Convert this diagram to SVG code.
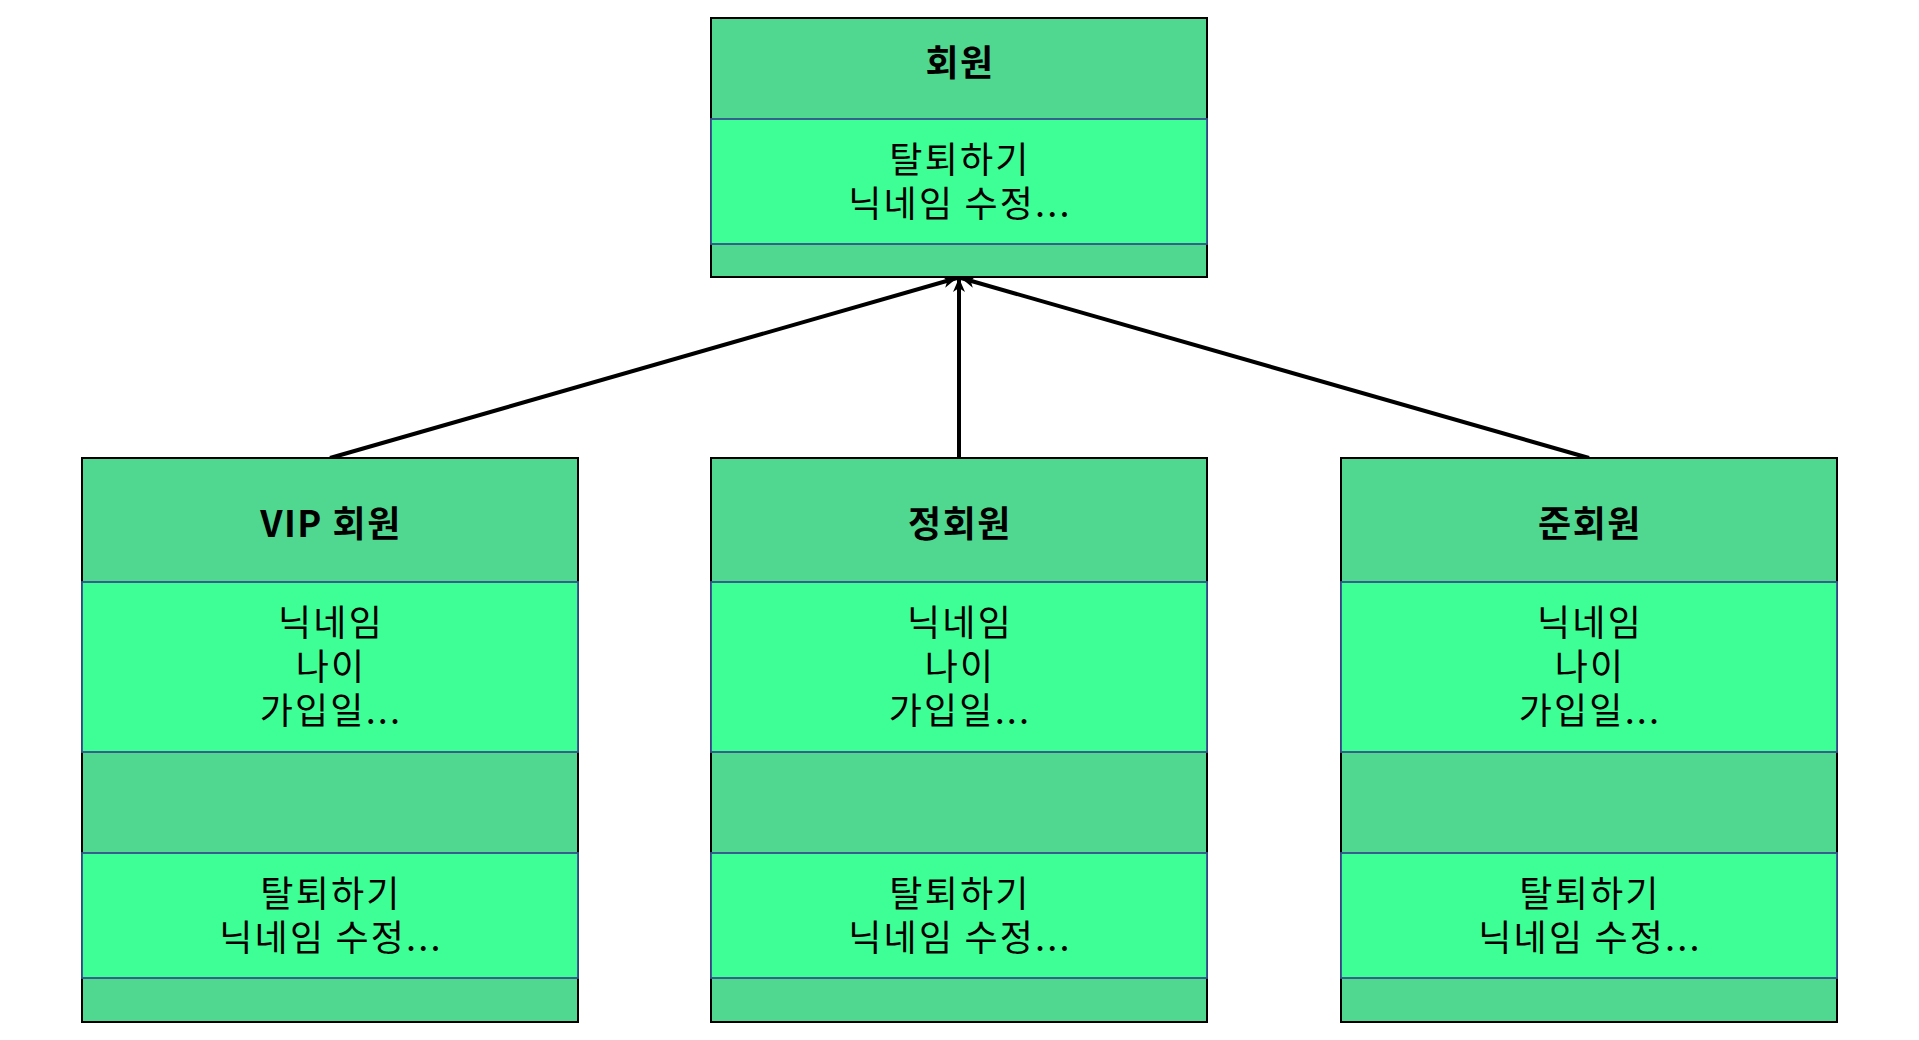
<svg xmlns="http://www.w3.org/2000/svg" width="1919" height="1040" viewBox="0 0 1919 1040">
<style>
.outer{fill:#50D890;stroke:#000;stroke-width:2}
.light{fill:#3EFF95;stroke:#34508C;stroke-width:1.8}
.title{font-family:"Noto Sans CJK KR","Noto Sans",sans-serif;font-size:36px;font-weight:bold;letter-spacing:1.5px;text-anchor:middle;fill:#000}
.body{font-family:"Noto Sans CJK KR","Noto Sans",sans-serif;font-size:36px;letter-spacing:2.2px;text-anchor:middle;fill:#000}
.conn{stroke:#000;stroke-width:4;fill:none;marker-end:url(#arr)}
</style>
<defs>
<marker id="arr" markerUnits="userSpaceOnUse" markerWidth="16" markerHeight="14" refX="14" refY="7" orient="auto">
<path d="M0,1 L14,7 L0,13 L4,7 Z" fill="#000"/>
</marker>
</defs>
<rect width="1919" height="1040" fill="#fff"/>
<g id="connectors">
<line class="conn" x1="330" y1="458" x2="957" y2="278"/>
<line class="conn" x1="959" y1="458" x2="959" y2="278"/>
<line class="conn" x1="1589" y1="458" x2="961" y2="278"/>
</g>
<g id="member">
<rect class="outer" x="711" y="18" width="496" height="259"/>
<rect class="light" x="711" y="119" width="496" height="125"/>
<text class="title" x="960" y="76">회원</text>
<text class="body" x="960" y="173">탈퇴하기</text>
<text class="body" x="960" y="217">닉네임 수정...</text>
</g>
<g id="vip">
<rect class="outer" x="82" y="458" width="496" height="564"/>
<rect class="light" x="82" y="582" width="496" height="170"/>
<rect class="light" x="82" y="853" width="496" height="125"/>
<text class="title" x="331" y="537">VIP 회원</text>
<text class="body" x="331" y="636">닉네임</text>
<text class="body" x="331" y="680">나이</text>
<text class="body" x="331" y="724">가입일...</text>
<text class="body" x="331" y="907">탈퇴하기</text>
<text class="body" x="331" y="951">닉네임 수정...</text>
</g>
<g id="regular">
<rect class="outer" x="711" y="458" width="496" height="564"/>
<rect class="light" x="711" y="582" width="496" height="170"/>
<rect class="light" x="711" y="853" width="496" height="125"/>
<text class="title" x="960" y="537">정회원</text>
<text class="body" x="960" y="636">닉네임</text>
<text class="body" x="960" y="680">나이</text>
<text class="body" x="960" y="724">가입일...</text>
<text class="body" x="960" y="907">탈퇴하기</text>
<text class="body" x="960" y="951">닉네임 수정...</text>
</g>
<g id="associate">
<rect class="outer" x="1341" y="458" width="496" height="564"/>
<rect class="light" x="1341" y="582" width="496" height="170"/>
<rect class="light" x="1341" y="853" width="496" height="125"/>
<text class="title" x="1590" y="537">준회원</text>
<text class="body" x="1590" y="636">닉네임</text>
<text class="body" x="1590" y="680">나이</text>
<text class="body" x="1590" y="724">가입일...</text>
<text class="body" x="1590" y="907">탈퇴하기</text>
<text class="body" x="1590" y="951">닉네임 수정...</text>
</g>
</svg>
